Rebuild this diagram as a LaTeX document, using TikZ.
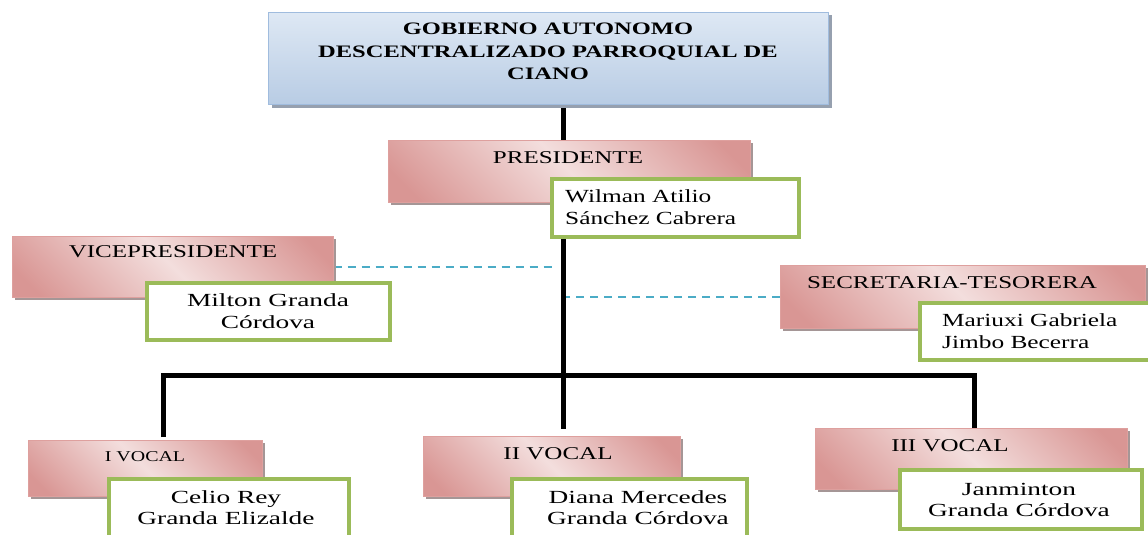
\documentclass[tikz,border=0pt]{standalone}
\usepackage{fontspec}
\setmainfont{Liberation Serif}
\newfontfamily\titlef[FakeStretch=1.40]{Liberation Serif}
\newfontfamily\rolef[FakeStretch=1.39]{Liberation Serif}
\newfontfamily\rolesf[FakeStretch=1.33]{Liberation Serif}
\newfontfamily\namef[FakeStretch=1.48]{Liberation Serif}
\newfontfamily\namelf[FakeStretch=1.37]{Liberation Serif}
\usetikzlibrary{shadows,backgrounds}
\definecolor{pinkD}{RGB}{217,150,148}
\definecolor{pinkL}{RGB}{243,222,221}
\definecolor{pinkE}{RGB}{222,160,158}
\definecolor{shadowc}{RGB}{165,150,150}
\definecolor{blueT}{RGB}{222,232,244}
\definecolor{blueB}{RGB}{184,204,228}
\definecolor{blueE}{RGB}{160,188,222}
\definecolor{blueS}{RGB}{150,160,175}
\definecolor{greenc}{RGB}{155,187,89}
\definecolor{cyanc}{RGB}{75,172,198}
\pgfdeclarehorizontalshading{pinkband}{100bp}{color(0bp)=(pinkD); color(20bp)=(pinkD); color(50bp)=(pinkL); color(80bp)=(pinkD); color(100bp)=(pinkD)}
\tikzset{
  pinkbox/.style={draw=pinkE, line width=0.6pt, shading=pinkband, shading angle=45,
    drop shadow={shadow xshift=3pt, shadow yshift=-3pt, fill=shadowc, opacity=1},
    anchor=north west, inner sep=0pt},
  bluebox/.style={draw=blueE, line width=1pt, top color=blueT, bottom color=blueB,
    drop shadow={shadow xshift=3pt, shadow yshift=-3pt, fill=blueS, opacity=1},
    anchor=north west, inner sep=0pt},
  greenbox/.style={draw=greenc, line width=4pt, fill=white, anchor=north west, inner sep=0pt},
  roletxt/.style={inner sep=0pt, anchor=base, font=\rolef\fontsize{18}{21}\selectfont},
  smallrole/.style={inner sep=0pt, anchor=base, font=\rolesf\fontsize{15}{18}\selectfont},
  nametxt/.style={inner sep=0pt, anchor=base, font=\namef\fontsize{18.5}{21}\selectfont},
  nameltxt/.style={inner sep=0pt, anchor=base west, font=\namelf\fontsize{18.5}{21}\selectfont},
  titletxt/.style={inner sep=0pt, anchor=base, font=\titlef\bfseries\fontsize{17.5}{22}\selectfont},
  mainline/.style={line width=5pt, black, line join=miter},
  dashline/.style={cyanc, line width=1.6pt, dash pattern=on 8pt off 6pt}
}
\begin{document}
\begin{tikzpicture}[x=1pt,y=-1pt]
\useasboundingbox (0,0) rectangle (1148,535);
\clip (0,0) rectangle (1148,535);
% title
\node[bluebox, minimum width=560pt, minimum height=92pt] (title) at (268,12) {};
\node[titletxt] (titleA) at (548,34.5) {GOBIERNO AUTONOMO};
\node[titletxt] (titleB) at (548,57) {DESCENTRALIZADO PARROQUIAL DE};
\node[titletxt] (titleC) at (548,80) {CIANO};
% presidente
\node[pinkbox, minimum width=362pt, minimum height=62pt] (pres) at (388,140) {};
\node[roletxt] (presT) at (568,163) {PRESIDENTE};
\node[greenbox, minimum width=247pt, minimum height=58pt] (presN) at (550,177) {};
\node[nameltxt] (presNA) at (565,202) {Wilman Atilio};
\node[nameltxt] (presNB) at (565,224) {Sánchez Cabrera};
% vicepresidente
\node[pinkbox, minimum width=321pt, minimum height=61pt] (vice) at (12,236) {};
\node[roletxt] (viceT) at (173,257) {VICEPRESIDENTE};
\node[greenbox, minimum width=243pt, minimum height=57pt] (viceN) at (145,281) {};
\node[nametxt] (viceNA) at (268,306) {Milton Granda};
\node[nametxt] (viceNB) at (268,328) {Córdova};
% secretaria
\node[pinkbox, minimum width=365pt, minimum height=63pt] (sec) at (780,265) {};
\node[roletxt] (secT) at (952,288) {SECRETARIA-TESORERA};
\node[greenbox, minimum width=232pt, minimum height=57pt] (secN) at (918,301) {};
\node[nameltxt] (secNA) at (942,326) {Mariuxi Gabriela};
\node[nameltxt] (secNB) at (942,348) {Jimbo Becerra};
% vocales
\node[pinkbox, minimum width=234pt, minimum height=56pt] (v1) at (28,440) {};
\node[smallrole] (v1T) at (145,461) {I VOCAL};
\node[greenbox, minimum width=240pt, minimum height=70pt] (v1N) at (107,477) {};
\node[nametxt] (v1NA) at (226,503) {Celio Rey};
\node[nametxt] (v1NB) at (226,524) {Granda Elizalde};
\node[pinkbox, minimum width=257pt, minimum height=60pt] (v2) at (423,436) {};
\node[roletxt] (v2T) at (558,459) {II VOCAL};
\node[greenbox, minimum width=235pt, minimum height=70pt] (v2N) at (510,477) {};
\node[nametxt] (v2NA) at (638,503) {Diana Mercedes};
\node[nametxt] (v2NB) at (638,524) {Granda Córdova};
\node[pinkbox, minimum width=312pt, minimum height=61pt] (v3) at (815,428) {};
\node[roletxt] (v3T) at (950,451) {III VOCAL};
\node[greenbox, minimum width=242pt, minimum height=59pt] (v3N) at (898,468) {};
\node[nametxt] (v3NA) at (1019,495) {Janminton};
\node[nametxt] (v3NB) at (1019,516) {Granda Córdova};
% connectors
\coordinate (vend) at (563,429);
\coordinate (hL) at (163,375);
\coordinate (hR) at (974,375);
\coordinate (v1e) at (163,437);
\coordinate (v3e) at (974,428);
\coordinate (dL) at (556,265);
\coordinate (dR) at (566,296);
\begin{pgfonlayer}{background}
\draw[mainline] (vend |- title.south) -- (vend);
\draw[mainline] (v1e) -- (hL) -- (hR) -- (v3e);
\draw[dashline] (vice.east) -- (vice.east -| dL);
\draw[dashline] (sec.west) -- (sec.west -| dR);
\end{pgfonlayer}
\end{tikzpicture}
\end{document}
